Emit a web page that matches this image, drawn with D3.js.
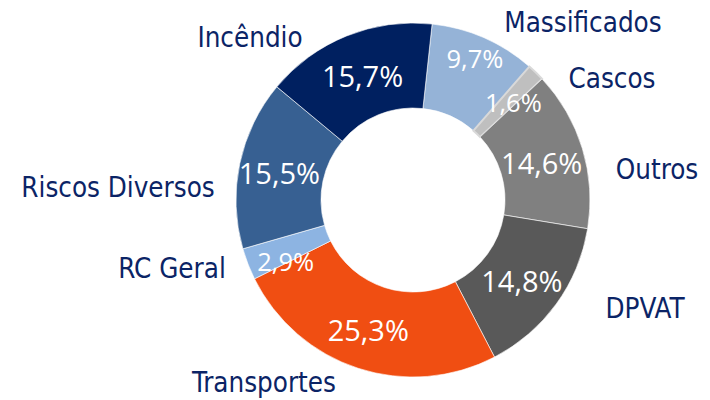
<!DOCTYPE html>
<html>
<head>
<meta charset="utf-8">
<script src="https://cdn.jsdelivr.net/npm/d3@7"></script>
<style>
    body { margin: 0; background: #fff; }
    svg { display: block; }
</style>
</head>
<body>
<div id="chart"></div>
<script>
// Chart data (clockwise from the top)
const categories = ["Massificados", "Cascos", "Outros", "DPVAT", "Transportes", "RC Geral", "Riscos Diversos", "Incêndio"];
const shares = [9.7, 1.6, 14.6, 14.8, 25.3, 2.9, 15.5, 15.7];
const colors = ["#95B3D7", "#BFBFBF", "#808080", "#595959", "#F04E12", "#8DB4E2", "#376092", "#002060"];

// label layout (category names sit outside the ring)
const namePos = [[583, 32], [612, 88], [657, 179], [645, 318], [264, 392], [172, 278], [118, 197], [250, 47]];
const pctNudge = [[8, -18], [7, 0], [0, 3], [0, 3], [-3, 3], [-2, 13], [-2, 1], [0, 1]];

const width = 710, height = 400;
const cx = 413, cy = 200;
const outerR = 177, innerR = 92;
const startAngle = 6.2 * Math.PI / 180;

const svg = d3.select("#chart")
    .append("svg")
    .attr("width", width)
    .attr("height", height);

const pie = d3.pie()
    .value(d => d)
    .sort(null)
    .startAngle(startAngle)
    .endAngle(startAngle + 2 * Math.PI);

const arc = d3.arc()
    .innerRadius(innerR)
    .outerRadius(outerR);

const arcs = pie(shares);

const g = svg.append("g")
    .attr("transform", `translate(${cx},${cy})`);

g.selectAll(".slice")
    .data(arcs)
    .join("path")
    .attr("class", "slice")
    .attr("d", arc)
    .style("fill", (d, i) => colors[i])
    .style("stroke", (d, i) => i === 1 ? "#D9D9D9" : "#fff")
    .style("stroke-width", (d, i) => i === 1 ? 2 : 0.6);

// percentage labels
g.selectAll(".pct")
    .data(arcs)
    .join("text")
    .attr("class", "pct")
    .attr("x", (d, i) => arc.centroid(d)[0] + pctNudge[i][0])
    .attr("y", (d, i) => arc.centroid(d)[1] + pctNudge[i][1])
    .attr("dy", "0.36em")
    .attr("text-anchor", "middle")
    .style("font-family", "'Open Sans', sans-serif")
    .style("font-size", d => (d.data < 10 ? 25.5 : 29) + "px")
    .style("fill", "#fff")
    .text(d => d.data.toFixed(1).replace(".", ",") + "%");

// category names
svg.selectAll(".name")
    .data(categories)
    .join("text")
    .attr("class", "name")
    .attr("x", (d, i) => namePos[i][0])
    .attr("y", (d, i) => namePos[i][1])
    .attr("text-anchor", "middle")
    .style("font-family", "'DejaVu Sans Condensed', 'DejaVu Sans', sans-serif")
    .style("font-size", "27.5px")
    .style("fill", "#0B2466")
    .text(d => d);
</script>
</body>
</html>
